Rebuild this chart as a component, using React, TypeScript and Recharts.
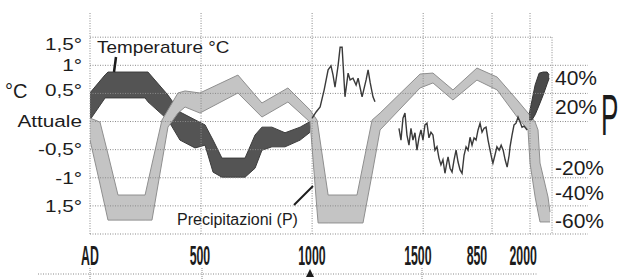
import { ComposedChart, Area, Line, XAxis, YAxis, ReferenceLine } from 'recharts';

const W = 619;
const H = 279;
const FONT = '"Liberation Sans", Arial, sans-serif';
const INK = '#1c1c1c';
const GRID = '#8a8a8a';

// horizontal scale: years AD
const xTickYears = [0, 495, 999, 1476, 1742, 1950];
const xTickLabels = ['AD', '500', '1000', '1500', '850', '2000'];
const gridYears = [0, 500, 1000, 1500, 1810, 1981];

// left scale: °C compared with today
const tempTicks = [1.5, 1, 0.5, 0, -0.5, -1, -1.5];
const tempTickLabels = ['1,5°', '1°', '0,5°', 'Attuale', '-0,5°', '-1°', '1,5°'];
const tempGrid = [1, 0.5, 0, -0.5, -1, -1.5, -2];

// right scale: precipitation %
const precTicks = [40, 20, -20, -40, -60];
const precTickLabels = ['40%', '20%', '-20%', '-40%', '-60%'];

// temperature band (°C)
const tempBandYears = [0, 68, 81, 248, 261, 351, 405, 473, 518, 554, 594, 698, 743, 774, 819, 878, 946, 991];
const tempBandLow = [0.03, 0.42, 0.42, 0.42, 0.35, 0.03, -0.33, -0.47, -0.42, -0.9, -0.99, -0.99, -0.83, -0.51, -0.45, -0.45, -0.33, -0.19];
const tempBandHigh = [0.51, 0.83, 0.88, 0.88, 0.88, 0.47, 0.17, 0.03, -0.06, -0.33, -0.65, -0.65, -0.24, -0.1, -0.1, -0.2, -0.1, 0.0];

// precipitation band (%)
const precYears = [0, 45, 81, 126, 248, 279, 324, 351, 396, 428, 495, 666, 774, 891, 991, 1022, 1027, 1072, 1202, 1229, 1270, 1306, 1486, 1544, 1634, 1742, 1833, 1923, 1972, 1981, 2004, 2017, 2026, 2044, 2062, 2071];
const precLow = [-3.6, -34.3, -59.5, -59.5, -59.5, -59.5, -19.0, 5.4, 15.2, 19.4, 15.2, 29.2, 12.4, 22.9, 8.9, -52.5, -61.5, -61.5, -61.5, -61.5, -27.4, 3.4, 32.7, 36.2, 24.3, 38.2, 31.3, 12.4, 3.4, -19.7, -43.4, -53.9, -60.8, -60.8, -60.8, -60.8];
const precHigh = [11.7, 8.9, -13.4, -42.0, -42.0, -20.4, 10.3, 17.3, 29.2, 30.6, 29.2, 41.7, 22.2, 32.7, 17.3, 10.3, 5.4, -42.0, -42.0, -21.1, 10.3, 15.2, 42.4, 43.1, 31.3, 46.6, 40.3, 24.3, 15.2, 13.8, 8.9, 3.4, -19.7, -31.5, -43.4, -53.9];

// recent warming (°C)
const warmYears = [1977, 1990, 2004, 2022, 2040, 2058, 2067];
const warmLow = [0.03, 0.03, 0.12, 0.29, 0.47, 0.67, 0.77];
const warmHigh = [0.13, 0.38, 0.65, 0.86, 0.88, 0.88, 0.83];

// measured temperature, medieval stretch
const medYears = [1000, 1018, 1036, 1054, 1072, 1085, 1094, 1103, 1117, 1126, 1135, 1148, 1162, 1171, 1184, 1198, 1207, 1225, 1243, 1252, 1261, 1274, 1283];
const medTemp = [0.06, 0.17, 0.26, 0.56, 0.92, 0.99, 0.83, 0.61, 1.0, 1.32, 1.32, 0.44, 0.86, 0.74, 0.77, 0.65, 0.77, 0.44, 0.74, 0.92, 0.7, 0.44, 0.35];

// measured temperature, 1400 onwards
const modYears = [1391, 1400, 1409, 1418, 1427, 1436, 1445, 1454, 1463, 1472, 1481, 1490, 1499, 1508, 1517, 1526, 1535, 1544, 1553, 1562, 1571, 1580, 1589, 1598, 1607, 1612, 1621, 1630, 1639, 1648, 1657, 1666, 1675, 1684, 1693, 1702, 1711, 1720, 1729, 1738, 1747, 1756, 1765, 1774, 1783, 1792, 1801, 1810, 1814, 1823, 1832, 1842, 1851, 1860, 1869, 1878, 1887, 1891, 1900, 1909, 1918, 1927, 1936, 1945, 1954, 1968];
const modTemp = [-0.12, -0.33, 0.06, 0.15, -0.24, -0.42, -0.12, -0.33, -0.2, -0.51, -0.29, -0.15, -0.33, -0.06, -0.03, -0.29, -0.19, -0.24, -0.51, -0.45, -0.65, -0.77, -0.68, -0.92, -0.72, -0.63, -0.83, -0.9, -0.68, -0.51, -0.72, -0.86, -0.92, -0.6, -0.45, -0.51, -0.28, -0.42, -0.29, -0.33, -0.15, -0.03, -0.19, -0.12, -0.1, -0.33, -0.51, -0.68, -0.74, -0.6, -0.45, -0.51, -0.42, -0.51, -0.68, -0.81, -0.6, -0.45, -0.24, -0.06, -0.03, 0.08, -0.01, -0.1, -0.08, -0.15];

const tempBand = tempBandYears.map((year, i) => ({ year, range: [tempBandLow[i], tempBandHigh[i]] }));
const precBand = precYears.map((year, i) => ({ year, range: [precLow[i], precHigh[i]] }));
const warmBand = warmYears.map((year, i) => ({ year, range: [warmLow[i], warmHigh[i]] }));
const medLine = medYears.map((year, i) => ({ year, t: medTemp[i] }));
const modLine = modYears.map((year, i) => ({ year, t: modTemp[i] }));

function XTick({ payload }: any) {
  const i = xTickYears.indexOf(payload.value);
  const x = 90 + (payload.value / 2242) * 498;
  return (
    <text
      transform={`translate(${x},265) scale(0.44,1)`}
      textAnchor="middle"
      fontSize={28}
      fontWeight="bold"
      fontFamily={FONT}
      fill={INK}
    >
      {xTickLabels[i]}
    </text>
  );
}

function TempTick({ y, payload }: any) {
  const i = tempTicks.indexOf(payload.value);
  const dy = i === 0 ? 7 : i === 2 ? -3 : 0;
  return (
    <text
      transform={`translate(82,${y + dy}) scale(1.22,1)`}
      textAnchor="end"
      dominantBaseline="central"
      fontSize={17}
      fontFamily={FONT}
      fill={INK}
    >
      {tempTickLabels[i]}
    </text>
  );
}

function PrecTick({ y, payload }: any) {
  const i = precTicks.indexOf(payload.value);
  const dy = payload.value === -20 ? 4 : 0;
  return (
    <text x={555} y={y + dy} dominantBaseline="central" fontSize={21} fontFamily={FONT} fill={INK}>
      {precTickLabels[i]}
    </text>
  );
}

export default function App() {
  return (
    <div style={{ position: 'absolute', left: 0, top: 0, width: W, height: H, background: '#fff' }}>
      <ComposedChart width={W} height={H} margin={{ top: 13, right: 1, left: 0, bottom: 0 }}>
        <XAxis
          type="number"
          dataKey="year"
          domain={[0, 2242]}
          ticks={xTickYears}
          tick={<XTick />}
          interval={0}
          axisLine={false}
          tickLine={false}
          height={45}
          allowDataOverflow
        />
        <YAxis
          yAxisId="t"
          type="number"
          domain={[-2, 1.93]}
          ticks={tempTicks}
          tick={<TempTick />}
          interval={0}
          axisLine={false}
          tickLine={false}
          width={90}
          allowDataOverflow
        />
        <YAxis
          yAxisId="p"
          orientation="right"
          type="number"
          domain={[-69.2, 85]}
          ticks={precTicks}
          tick={<PrecTick />}
          interval={0}
          axisLine={false}
          tickLine={false}
          width={30}
          allowDataOverflow
        />
        {tempGrid.map((v) => (
          <ReferenceLine key={`h${v}`} yAxisId="t" y={v} stroke={GRID} strokeDasharray="1 1.5" />
        ))}
        <ReferenceLine
          yAxisId="t"
          segment={[{ x: 0, y: 1.5 }, { x: 2080, y: 1.5 }]}
          stroke={GRID}
          strokeDasharray="1 1.5"
        />
        {gridYears.map((v) => (
          <ReferenceLine key={`v${v}`} yAxisId="t" x={v} stroke={GRID} strokeDasharray="1 1.5" />
        ))}
        <ReferenceLine
          yAxisId="t"
          segment={[{ x: 2080, y: 1.5 }, { x: 2080, y: -2 }]}
          stroke={GRID}
          strokeDasharray="1 1.5"
        />
        <Area
          yAxisId="t"
          data={tempBand}
          dataKey="range"
          type="linear"
          stroke="#3c3c3c"
          strokeWidth={1}
          fill="#545454"
          fillOpacity={1}
          dot={false}
          activeDot={false}
          isAnimationActive={false}
        />
        <Area
          yAxisId="p"
          data={precBand}
          dataKey="range"
          type="linear"
          stroke="#8f8f8f"
          strokeWidth={1}
          fill="#c4c4c4"
          fillOpacity={1}
          dot={false}
          activeDot={false}
          isAnimationActive={false}
        />
        <Line
          yAxisId="t"
          data={medLine}
          dataKey="t"
          type="linear"
          stroke="#3a3a3a"
          strokeWidth={1.4}
          dot={false}
          activeDot={false}
          isAnimationActive={false}
        />
        <Line
          yAxisId="t"
          data={modLine}
          dataKey="t"
          type="linear"
          stroke="#3a3a3a"
          strokeWidth={1.4}
          dot={false}
          activeDot={false}
          isAnimationActive={false}
        />
        <Area
          yAxisId="t"
          data={warmBand}
          dataKey="range"
          type="linear"
          stroke="#333"
          strokeWidth={1}
          fill="#4a4a4a"
          fillOpacity={1}
          dot={false}
          activeDot={false}
          isAnimationActive={false}
        />
      </ComposedChart>
      <svg
        width={W}
        height={H}
        style={{ position: 'absolute', left: 0, top: 0, pointerEvents: 'none', overflow: 'hidden' }}
      >
        <text x={5} y={98} fontSize={20} fontFamily={FONT} fill={INK}>°C</text>
        <text transform="translate(601,135) scale(0.45,1)" fontSize={58} fontFamily={FONT} fill={INK}>P</text>
        <text transform="translate(97,53) scale(1.18,1)" fontSize={16} fontFamily={FONT} fill={INK}>
          Temperature °C
        </text>
        <line x1={116} y1={57} x2={114} y2={72} stroke={INK} strokeWidth={2.5} />
        <text x={177} y={225} fontSize={16} fontFamily={FONT} fill={INK}>Precipitazioni (P)</text>
        <line x1={294} y1={205} x2={313} y2={186} stroke={INK} strokeWidth={2} />
        <line x1={38} y1={274} x2={537} y2={274} stroke={GRID} strokeDasharray="1 1.5" />
        {[90, 202, 422].map((x) => (
          <line key={x} x1={x} y1={268} x2={x} y2={279} stroke={GRID} strokeDasharray="1 1" />
        ))}
        <polygon points="306,277 310,269 314,277" fill={INK} />
      </svg>
    </div>
  );
}
